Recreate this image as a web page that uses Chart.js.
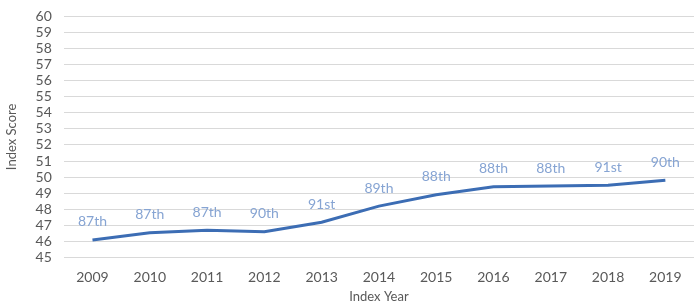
<!DOCTYPE html>
<html>
<head>
<meta charset="utf-8">
<script src="https://cdn.jsdelivr.net/npm/chart.js@4"></script>
<style>
  html, body { margin: 0; padding: 0; background: #fff; }
  #wrap { width: 694px; height: 307px; }
</style>
</head>
<body>
<div id="wrap"><canvas id="scoreChart"></canvas></div>
<script>
const years = ['2009', '2010', '2011', '2012', '2013', '2014', '2015', '2016', '2017', '2018', '2019'];
const scores = [46.1, 46.55, 46.7, 46.6, 47.2, 48.2, 48.9, 49.4, 49.45, 49.5, 49.8];
const ranks = ['87th', '87th', '87th', '90th', '91st', '89th', '88th', '88th', '88th', '91st', '90th'];
const yMin = 45;
const yMax = 60;

// rank labels above each point
const rankLabels = {
  id: 'rankLabels',
  afterDatasetsDraw(chart) {
    const ctx = chart.ctx;
    const meta = chart.getDatasetMeta(0);
    ctx.save();
    ctx.font = '14px Lato, sans-serif';
    ctx.fillStyle = '#86a4d3';
    ctx.textAlign = 'center';
    ctx.textBaseline = 'middle';
    meta.data.forEach((pt, i) => {
      ctx.fillText(ranks[i], pt.x, pt.y - 18);
    });
    ctx.restore();
  }
};

const ctx1 = document.getElementById('scoreChart');
const scoreChart = new Chart(ctx1, {
  type: 'line',
  data: {
    labels: years,
    datasets: [{
      label: 'Index Score',
      data: scores,
      borderColor: '#3c6db4',
      borderWidth: 3,
      pointRadius: 0,
      tension: 0,
      fill: false
    }]
  },
  options: {
    responsive: true,
    maintainAspectRatio: false,
    animation: false,
    layout: { padding: { top: 0, right: 0, left: 4, bottom: 2 } },
    plugins: {
      legend: { display: false },
      tooltip: { enabled: false }
    },
    scales: {
      x: {
        offset: true,
        grid: { display: false, drawTicks: false },
        border: { display: false },
        ticks: { color: '#595959', font: { family: 'Lato, sans-serif', size: 14 }, padding: 11, maxRotation: 0 },
        title: { display: true, text: 'Index Year', color: '#595959', font: { family: 'Lato, sans-serif', size: 13 }, padding: { top: -7, bottom: 0 } }
      },
      y: {
        min: yMin,
        max: yMax,
        ticks: { stepSize: 1, autoSkip: false, color: '#595959', font: { family: 'Lato, sans-serif', size: 14, lineHeight: 0.6 }, padding: 12 },
        grid: { color: '#d9d9d9', lineWidth: 1, drawTicks: false },
        border: { display: false },
        title: { display: true, text: 'Index Score', color: '#595959', font: { family: 'Lato, sans-serif', size: 13 }, padding: { top: 0, bottom: 4 } }
      }
    }
  },
  plugins: [rankLabels]
});
</script>
</body>
</html>
